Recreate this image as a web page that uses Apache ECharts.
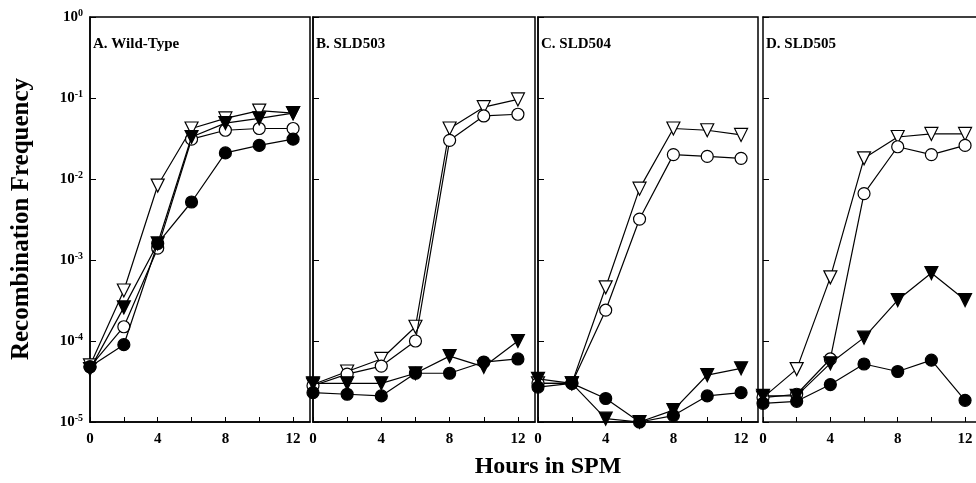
<!DOCTYPE html>
<html>
<head>
<meta charset="utf-8">
<script src="https://cdn.jsdelivr.net/npm/echarts@6/dist/echarts.min.js"></script>
<style>
  html, body { margin: 0; padding: 0; background: #fff; }
  #chart { width: 976px; height: 483px; }
</style>
</head>
<body>
<div id="chart"></div>
<script>
// hours in SPM
var hours = [0, 2, 4, 6, 8, 10, 12];
var panelTitles = ["A. Wild-Type", "B. SLD503", "C. SLD504", "D. SLD505"];

// open triangle / filled triangle / open circle / filled circle, per panel
var openTriA = [5e-5, 4.2e-4, 8.3e-3, 0.042, 0.056, 0.07, 0.065];
var filledTriA = [4.5e-5, 2.6e-4, 1.6e-3, 0.033, 0.049, 0.056, 0.065];
var openCircA = [4.8e-5, 1.5e-4, 1.4e-3, 0.031, 0.04, 0.042, 0.042];
var filledCircA = [4.8e-5, 9e-5, 1.6e-3, 5.2e-3, 0.021, 0.026, 0.031];

var openTriB = [2.9e-5, 4.2e-5, 6e-5, 1.5e-4, 0.042, 0.077, 0.096];
var filledTriB = [3e-5, 3e-5, 3e-5, 4e-5, 6.5e-5, 4.8e-5, 1e-4];
var openCircB = [2.8e-5, 3.9e-5, 4.9e-5, 1e-4, 0.03, 0.06, 0.063];
var filledCircB = [2.3e-5, 2.2e-5, 2.1e-5, 4e-5, 4e-5, 5.5e-5, 6e-5];

var openTriC = [3e-5, 3e-5, 4.6e-4, 7.6e-3, 0.042, 0.04, 0.035];
var filledTriC = [3.4e-5, 3e-5, 1.1e-5, 1e-5, 1.4e-5, 3.8e-5, 4.6e-5];
var openCircC = [3e-5, 3e-5, 2.4e-4, 3.2e-3, 0.02, 0.019, 0.018];
var filledCircC = [2.7e-5, 3e-5, 1.95e-5, 1e-5, 1.2e-5, 2.1e-5, 2.3e-5];

var openTriD = [2e-5, 4.5e-5, 6.1e-4, 0.018, 0.033, 0.036, 0.036];
var filledTriD = [2.1e-5, 2.1e-5, 5.3e-5, 1.1e-4, 3.2e-4, 6.9e-4, 3.2e-4];
var openCircD = [2e-5, 2.2e-5, 6e-5, 6.6e-3, 0.025, 0.02, 0.026];
var filledCircD = [1.7e-5, 1.8e-5, 2.9e-5, 5.2e-5, 4.2e-5, 5.8e-5, 1.85e-5];

var panels = [
  [openTriA, openCircA, filledTriA, filledCircA],
  [openTriB, openCircB, filledTriB, filledCircB],
  [openTriC, openCircC, filledTriC, filledCircC],
  [openTriD, openCircD, filledTriD, filledCircD]
];

var font = "Liberation Serif";
var lefts = [90, 313, 538, 763];
var widths = [220, 222, 220, 213];
var xMax = [13, 13, 13, 12.65]; // last panel runs off the right edge

var myChart = echarts.init(document.getElementById("chart"));

var grids = [], xAxes = [], yAxes = [], titles = [], series = [];

// marker styles: open tri, open circle, filled tri, filled circle
var markers = [
  { symbol: "triangle", size: 13, rotate: 180, fill: "#fff" },
  { symbol: "circle", size: 12, rotate: 0, fill: "#fff" },
  { symbol: "triangle", size: 13, rotate: 180, fill: "#000" },
  { symbol: "circle", size: 12, rotate: 0, fill: "#000" }
];

for (var i = 0; i < 4; i++) {
  grids.push({
    left: lefts[i], top: 17, width: widths[i], bottom: 61,
    show: true, borderColor: i === 3 ? "transparent" : "#000", borderWidth: 1.5,
    backgroundColor: "transparent"
  });
  xAxes.push({
    type: "value", gridIndex: i, min: 0, max: xMax[i], interval: 2,
    axisLine: { show: true, lineStyle: { color: "#000", width: 1.5 } },
    axisTick: { show: true, inside: true, length: 5, lineStyle: { color: "#000" } },
    splitLine: { show: false },
    axisLabel: {
      margin: 10, color: "#000", fontFamily: font, fontWeight: "bold", fontSize: 15,
      showMaxLabel: false,
      formatter: function (v) { return v % 4 === 0 && v <= 12 ? String(v) : ""; }
    }
  });
  yAxes.push({
    type: "log", logBase: 10, gridIndex: i, min: 1e-5, max: 1, interval: 1,
    axisLine: { show: true, lineStyle: { color: "#000", width: 1.5 } },
    axisTick: { show: true, inside: true, length: 6, lineStyle: { color: "#000" } },
    minorTick: { show: false },
    splitLine: { show: false },
    axisLabel: {
      show: i === 0, margin: 7, color: "#000", fontFamily: font, fontWeight: "bold", fontSize: 15,
      formatter: function (v) {
        return "10{s|" + Math.round(Math.log10(v)) + "}";
      },
      rich: {
        s: { fontFamily: font, fontWeight: "bold", fontSize: 10, verticalAlign: "top", padding: [0, 0, 8, 0] }
      }
    }
  });
  titles.push({
    text: panelTitles[i], left: lefts[i] + 3, top: 37, padding: 0,
    textStyle: { fontFamily: font, fontWeight: "bold", fontSize: 15, color: "#000" }
  });
  for (var k = 0; k < 4; k++) {
    var m = markers[k];
    series.push({
      type: "line", xAxisIndex: i, yAxisIndex: i,
      data: hours.map(function (h, j) { return [h, panels[i][k][j]]; }),
      symbol: m.symbol, symbolSize: m.size, symbolRotate: m.rotate,
      showAllSymbol: true, clip: false,
      lineStyle: { color: "#000", width: 1.2 },
      itemStyle: { color: m.fill, borderColor: "#000", borderWidth: 1.2 },
      z: 2 + k
    });
  }
}

// top border of the last panel (its right side is cut off)
xAxes.push({
  type: "value", gridIndex: 3, position: "top", min: 0, max: xMax[3],
  axisLine: { show: true, lineStyle: { color: "#000", width: 1.5 } },
  axisTick: { show: false }, axisLabel: { show: false }, splitLine: { show: false }
});

var option = {
  animation: false,
  grid: grids,
  xAxis: xAxes,
  yAxis: yAxes,
  title: titles,
  graphic: [
    {
      type: "text", x: 22, y: 219, rotation: Math.PI / 2,
      style: {
        text: "Recombination Frequency", fill: "#000",
        font: "bold 25px " + font, align: "center", verticalAlign: "middle"
      }
    },
    {
      type: "text", x: 548, y: 467,
      style: {
        text: "Hours in SPM", fill: "#000",
        font: "bold 24px " + font, align: "center", verticalAlign: "middle"
      }
    }
  ],
  series: series
};
option && myChart.setOption(option);
</script>
</body>
</html>
